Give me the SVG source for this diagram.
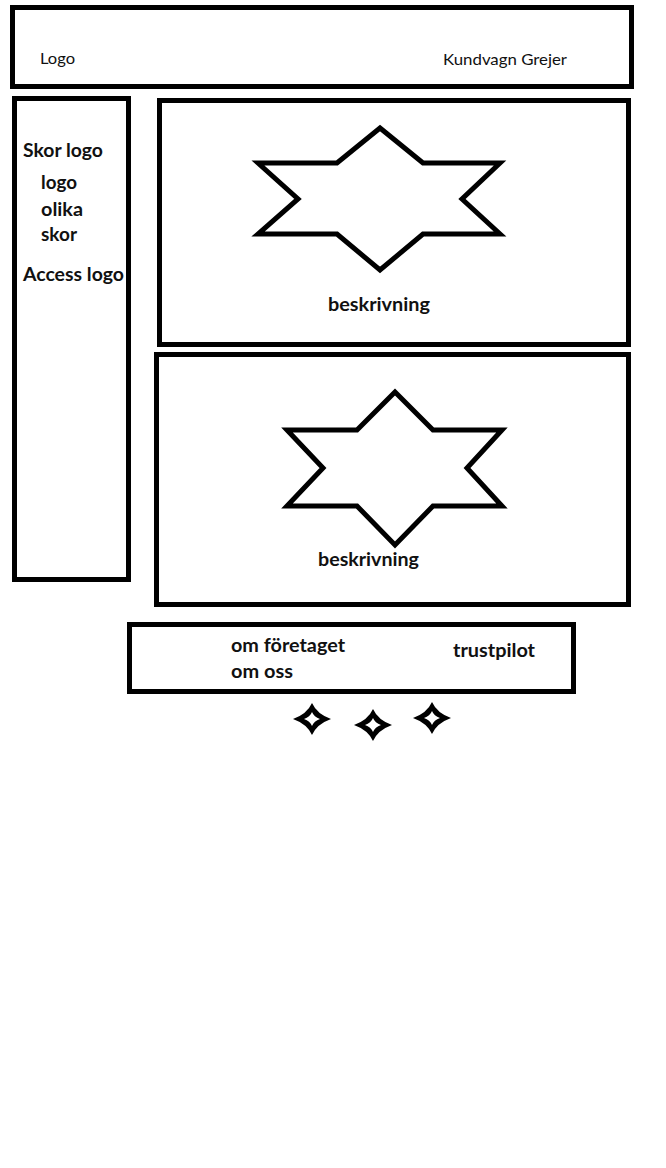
<svg xmlns="http://www.w3.org/2000/svg" width="666" height="1168" viewBox="0 0 666 1168">
  <style>
    .box { fill: none; stroke: #000; stroke-width: 5; }
    .star { fill: none; stroke: #000; stroke-width: 5; stroke-linejoin: miter; }
    .reg { font-family: Lato, "Open Sans", sans-serif; font-size: 15px; fill: #111; }
    .bold { font-family: Lato, "Open Sans", sans-serif; font-size: 18px; font-weight: bold; fill: #111; }
  </style>
  <defs>
    <g id="spark">
      <path d="M-19,0 Q-5,-5 0,-16 Q5,-5 19,0 Q5,5 0,16 Q-5,5 -19,0 Z" fill="#000"/>
      <path d="M-8,0 Q-2,-2 0,-7 Q2,-2 8,0 Q2,2 0,7 Q-2,2 -8,0 Z" fill="#fff"/>
    </g>
  </defs>
  <rect width="666" height="1168" fill="#fff"/>

  <g id="header">
    <rect class="box" x="12.5" y="7.5" width="619" height="79" stroke-width="6"/>
    <text class="reg" x="40" y="64" textLength="35" lengthAdjust="spacingAndGlyphs">Logo</text>
    <text class="reg" x="443" y="65" textLength="124" lengthAdjust="spacingAndGlyphs">Kundvagn Grejer</text>
  </g>

  <g id="sidebar">
    <rect class="box" x="14.5" y="98.5" width="114" height="481"/>
    <text class="bold" x="23" y="157" textLength="80" lengthAdjust="spacingAndGlyphs">Skor logo</text>
    <text class="bold" x="41" y="189" textLength="36" lengthAdjust="spacingAndGlyphs">logo</text>
    <text class="bold" x="41" y="216" textLength="42" lengthAdjust="spacingAndGlyphs">olika</text>
    <text class="bold" x="41" y="241" textLength="36" lengthAdjust="spacingAndGlyphs">skor</text>
    <text class="bold" x="23" y="281" textLength="101" lengthAdjust="spacingAndGlyphs">Access logo</text>
  </g>

  <g id="product1">
    <rect class="box" x="159.5" y="100.5" width="469" height="244"/>
    <polygon class="star" points="380,128 423,163 500,163 462,199 500,234 423,234 380,270 337,234 258,234 298,199 258,163 337,163"/>
    <text class="bold" x="328" y="311" textLength="102" lengthAdjust="spacingAndGlyphs">beskrivning</text>
  </g>

  <g id="product2">
    <rect class="box" x="156.5" y="354.5" width="472" height="250"/>
    <polygon class="star" points="395,392 433,430 502,430 467,468 502,506 433,506 395,545 357,506 287,506 323,468 287,430 357,430"/>
    <text class="bold" x="318" y="566" textLength="101" lengthAdjust="spacingAndGlyphs">beskrivning</text>
  </g>

  <g id="footer">
    <rect class="box" x="129.5" y="624.5" width="444" height="67"/>
    <text class="bold" x="231" y="652" textLength="114" lengthAdjust="spacingAndGlyphs">om företaget</text>
    <text class="bold" x="231" y="678" textLength="62" lengthAdjust="spacingAndGlyphs">om oss</text>
    <text class="bold" x="453" y="657" textLength="82" lengthAdjust="spacingAndGlyphs">trustpilot</text>
  </g>

  <g id="rating">
    <use href="#spark" x="312" y="719"/>
    <use href="#spark" x="373" y="725"/>
    <use href="#spark" x="432" y="718"/>
  </g>

  <g id="connectors"></g>
</svg>
